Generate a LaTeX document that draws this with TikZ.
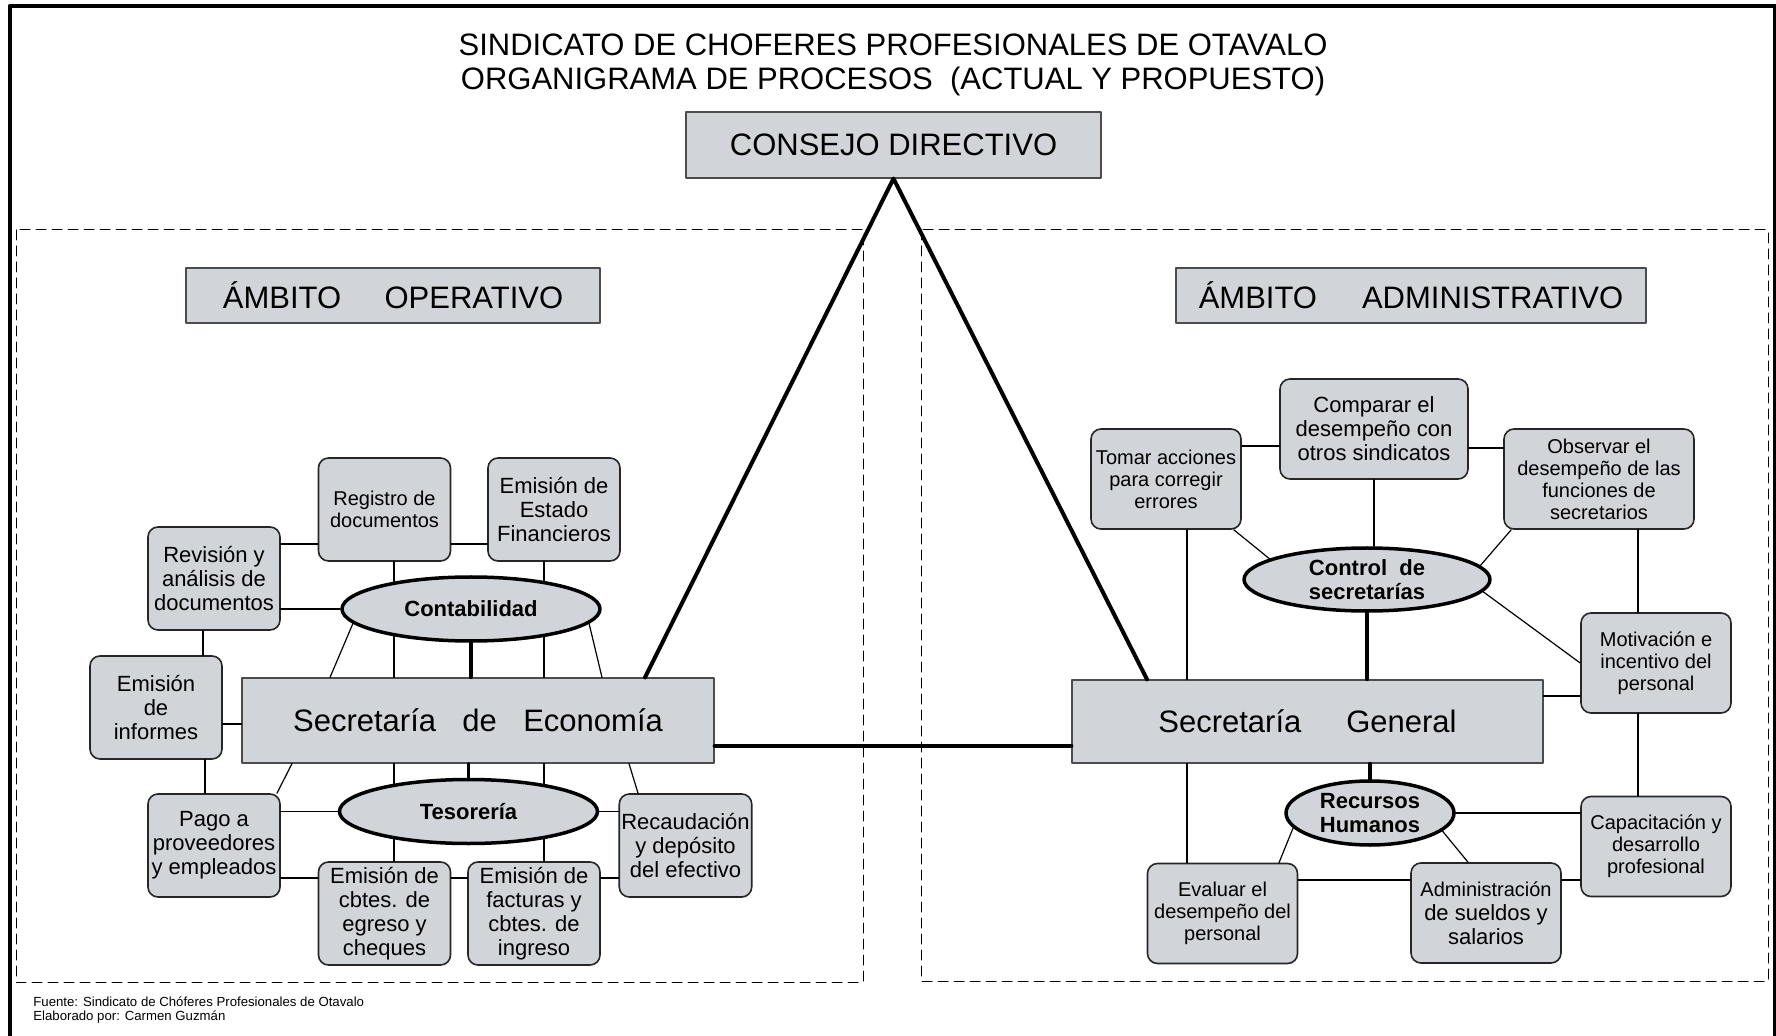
\documentclass[tikz,border=0pt]{standalone}
\usepackage{fontspec}
\setmainfont{Liberation Sans}
\usetikzlibrary{shapes.geometric}
\definecolor{fondo}{RGB}{209,212,217}
\begin{document}
\begin{tikzpicture}[x=0.5pt,y=-0.5pt,line cap=round,line join=round,
  caja/.style={rectangle,draw=black!70,line width=0.6pt,fill=fondo,inner sep=0pt,align=center,font=\fontsize{15.5}{18}\selectfont},
  proc/.style={rectangle,rounded corners=5pt,draw=black!85,line width=0.8pt,fill=fondo,inner sep=1pt,align=center,minimum width=66pt,minimum height=51.5pt,font=\fontsize{11}{12}\selectfont},
  procp/.style={proc,font=\fontsize{10}{11}\selectfont},
  proca/.style={procp,minimum width=75pt,minimum height=50pt},
  area/.style={ellipse,draw=black,line width=1.75pt,fill=fondo,inner sep=0pt,align=center,font=\fontsize{11}{12}\selectfont\bfseries},
  linea/.style={line width=0.6pt},
  lineag/.style={line width=1.75pt},
  zona/.style={line width=0.5pt,dash pattern=on 5pt off 3pt}]
\useasboundingbox (0,0) rectangle (1776,1036);
\draw [line width=2pt] (9.5,1045) -- (9.5,6) -- (1775,6) -- (1775,1045);
\draw [zona] (16,230) rectangle (863,982);
\draw [zona] (921,230) rectangle (1768,981);

\node [font=\fontsize{15.5}{17}\selectfont,align=center] (titulo) at (893,64.5) {SINDICATO DE CHOFERES PROFESIONALES DE OTAVALO\\ORGANIGRAMA DE PROCESOS\ \ (ACTUAL Y PROPUESTO)};
\node [caja,minimum width=207.5pt,minimum height=33pt] (consejo) at (893.5,145) {CONSEJO DIRECTIVO};
\node [caja,minimum width=207pt,minimum height=27.5pt] (ambop) at (393,295.5) {ÁMBITO\hspace{1.4em}OPERATIVO};
\node [caja,minimum width=235pt,minimum height=27.5pt] (ambad) at (1411,295.5) {ÁMBITO\hspace{1.45em}ADMINISTRATIVO};
\node [caja,minimum width=236pt,minimum height=42.5pt] (seco) at (478,720.5) {Secretaría\hspace{0.85em}de\hspace{0.85em}Economía};
\node [caja,minimum width=235.5pt,minimum height=41.5pt] (sgen) at (1307.5,721.5) {Secretaría\hspace{1.45em}General};
\node [anchor=west,align=left,inner sep=0pt,font=\fontsize{6.6}{7}\selectfont] (fuente) at (33,1010) {Fuente: Sindicato de Chóferes Profesionales de Otavalo\\Elaborado por: Carmen Guzmán};

\node [proc] (revi) at (214,578.5) {Revisión y\\análisis de\\documentos};
\node [procp] (regi) at (384.5,509.5) {Registro de\\documentos};
\node [proc] (esta) at (554,509.5) {Emisión de\\Estado\\Financieros};
\node [proc] (info) at (156,707.5) {Emisión\\de\\informes};
\node [proc] (pago) at (214,845.5) {Pago a\\proveedores\\y empleados};
\node [proc] (egre) at (384.5,913.5) {Emisión de\\cbtes. de\\egreso y\\cheques};
\node [proc] (fact) at (534,913.5) {Emisión de\\facturas y\\cbtes. de\\ingreso};
\node [proc] (reca) at (685.5,845.5) {Recaudación\\y depósito\\del efectivo};

\node [proca] (toma) at (1166,479) {Tomar acciones\\para corregir\\errores};
\node [proc,minimum width=94pt,minimum height=50pt] (comp) at (1374,429) {Comparar el\\desempeño con\\otros sindicatos};
\node [procp,minimum width=95pt,minimum height=50pt] (obse) at (1599,479) {Observar el\\desempeño de las\\funciones de\\secretarios};
\node [proca] (moti) at (1656,663) {Motivación e\\incentivo del\\personal};
\node [proca] (capa) at (1656,846.5) {Capacitación y\\desarrollo\\profesional};
\node [proca] (eval) at (1222.5,913.5) {Evaluar el\\desempeño del\\personal};
\node [proca,font=\fontsize{11}{12}\selectfont] (admi) at (1486,913) {{\fontsize{10}{12}\selectfont Administración}\\de sueldos y\\salarios};

\draw [linea] (regi.south -| 394,0) -- (seco.north -| 394,0);
\draw [linea] (esta.south -| 544,0) -- (seco.north -| 544,0);
\draw [linea] (seco.south -| 394,0) -- (egre.north -| 394,0);
\draw [linea] (seco.south -| 544,0) -- (fact.north -| 544,0);

\node [area,minimum width=129pt,minimum height=32pt] (conta) at (471,609) {Contabilidad};
\node [area,minimum width=129pt,minimum height=32pt] (teso) at (468.5,811.5) {Tesorería};
\node [area,minimum width=123pt,minimum height=31.5pt] (ctrl) at (1367,579.5) {Control\ \ de\\secretarías};
\node [area,minimum width=84pt,minimum height=32pt] (rrhh) at (1370,813) {Recursos\\Humanos};

\draw [line width=2pt] (seco.north -| 645,0) -- (consejo.south) -- (sgen.north -| 1147,0);
\draw [line width=2pt] (seco.east |- 0,746) -- (sgen.west |- 0,746);

\draw [linea] (revi.east |- 0,544) -- (regi.west |- 0,544);
\draw [linea] (regi.east |- 0,544) -- (esta.west |- 0,544);
\draw [linea] (revi.east |- conta.west) -- (conta.west);
\draw [lineag] (conta.south) -- (conta.south |- seco.north);
\draw [linea] (conta.187) -- (seco.north -| 330,0);
\draw [linea] (conta.-7) -- (seco.north -| 602,0);
\draw [linea] (revi.south -| 203,0) -- (info.north -| 203,0);
\draw [linea] (info.east |- 0,724) -- (seco.west |- 0,724);
\draw [linea] (info.south -| 205,0) -- (pago.north -| 205,0);
\draw [linea] (seco.south -| 292,0) -- (pago.north -| 277,0);
\draw [lineag] (teso.north) -- (teso.north |- seco.south);
\draw [linea] (seco.south -| 629,0) -- (reca.north -| 638,0);
\draw [linea] (pago.east |- teso.west) -- (teso.west);
\draw [linea] (teso.east) -- (reca.west |- teso.east);
\draw [linea] (pago.east |- 0,878) -- (egre.west |- 0,878);
\draw [linea] (egre.east |- 0,878) -- (fact.west |- 0,878);
\draw [linea] (fact.east |- 0,878) -- (reca.west |- 0,878);

\draw [linea] (toma.east |- 0,446) -- (comp.west |- 0,446);
\draw [linea] (comp.east |- 0,448) -- (obse.west |- 0,448);
\draw [linea] (comp.south) -- (comp.south |- ctrl.north);
\draw [linea] ([xshift=-4pt]toma.south east) -- (ctrl.168);
\draw [linea] ([xshift=4pt]obse.south west) -- (ctrl.7);
\draw [linea] (ctrl.-6) -- (moti.west);
\draw [lineag] (ctrl.south) -- (ctrl.south |- sgen.north);
\draw [linea] (toma.south -| 1187,0) -- (sgen.north -| 1187,0);
\draw [linea] (obse.south -| 1638,0) -- (moti.north -| 1638,0);
\draw [linea] (moti.south -| 1638,0) -- (capa.north -| 1638,0);
\draw [linea] (sgen.east |- 0,696) -- (moti.west |- 0,696);
\draw [linea] (sgen.south -| 1187,0) -- (eval.north -| 1187,0);
\draw [lineag] (rrhh.north) -- (rrhh.north |- sgen.south);
\draw [linea] (rrhh.east) -- (capa.west |- rrhh.east);
\draw [linea] (rrhh.191) -- (eval.north -| 1279,0);
\draw [linea] (rrhh.-14) -- (admi.north -| 1468,0);
\draw [linea] (eval.east |- 0,880) -- (admi.west |- 0,880);
\draw [linea] (admi.east |- 0,880) -- (capa.west |- 0,880);
\end{tikzpicture}
\end{document}
